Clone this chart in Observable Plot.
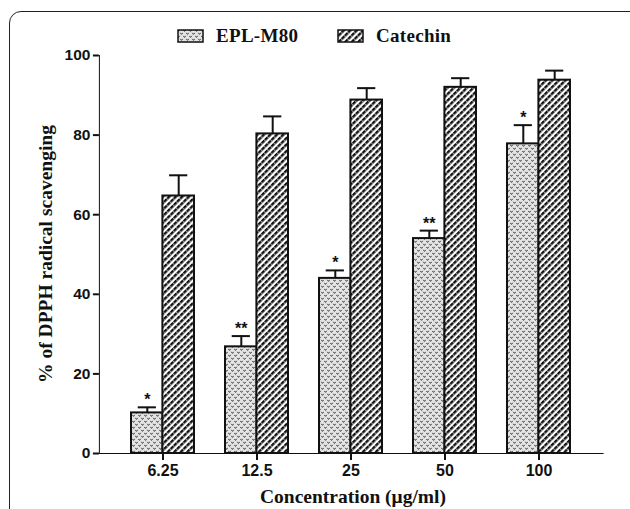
<!DOCTYPE html>
<html><head><meta charset="utf-8">
<script src="https://cdn.jsdelivr.net/npm/d3@7"></script>
<script src="https://cdn.jsdelivr.net/npm/@observablehq/plot@0.6"></script>
<style>
html,body{margin:0;padding:0;background:#fff;width:630px;height:509px;overflow:hidden}
#wrap{position:relative;width:630px;height:509px;overflow:hidden}
#frame{position:absolute;left:9px;top:11px;width:640px;height:530px;border:1.5px solid #222;border-radius:12px;box-sizing:border-box}
#chart{position:absolute;left:0;top:0}
.serif{font-family:"Liberation Serif","Times New Roman",serif;font-weight:bold;color:#111;white-space:nowrap}
.legtext{position:absolute;top:25px;font-size:19px;line-height:22px;letter-spacing:0.3px}
.sw{position:absolute;top:29px}
#ylab{position:absolute;left:46px;top:254px;font-size:19.5px;transform:translate(-50%,-50%) rotate(-90deg)}
#xlab{position:absolute;left:353px;top:497px;font-size:19.5px;transform:translate(-50%,-50%)}
#chart svg text{font-family:"Liberation Sans",Arial,sans-serif;font-weight:bold;fill:#111}
</style>
</head><body>
<svg width="0" height="0" style="position:absolute">
 <defs>
  <pattern id="patEPL" patternUnits="userSpaceOnUse" width="6" height="6">
   <rect width="6" height="6" fill="#e4e4e4"/>
   <path d="M0.3,0.8 L1.5,2.4 L2.7,0.8" fill="none" stroke="#3a3a3a" stroke-width="1"/>
   <path d="M3.3,3.8 L4.5,5.4 L5.7,3.8" fill="none" stroke="#3a3a3a" stroke-width="1"/>
  </pattern>
  <pattern id="patCat" patternUnits="userSpaceOnUse" width="4.6" height="4.6" patternTransform="rotate(45)">
   <rect width="4.6" height="4.6" fill="#fff"/>
   <rect width="2.4" height="4.6" fill="#111"/>
   <rect x="0" y="3.6" width="2.4" height="0.6" fill="#fff"/>
  </pattern>
 </defs>
</svg>
<div id="wrap">
 <div id="frame"></div>
 <div id="chart"></div>
 <div id="legend"></div>
 <div id="ylab" class="serif">% of DPPH radical scavenging</div>
 <div id="xlab" class="serif">Concentration (μg/ml)</div>
</div>
<script>
// ---- data ----
const concentrations = ["6.25", "12.5", "25", "50", "100"];
const seriesNames = ["EPL-M80", "Catechin"];
const eplMean = [10.2, 26.8, 44.0, 54.0, 77.8];
const eplErr  = [1.4, 2.7, 2.0, 2.0, 4.7];
const catMean = [64.7, 80.3, 88.8, 92.0, 93.8];
const catErr  = [5.2, 4.4, 3.0, 2.3, 2.4];
const significance = ["*", "**", "*", "**", "*"];
const yTicks = [0, 20, 40, 60, 80, 100];

const epl = concentrations.map((c, i) => ({conc: c, series: seriesNames[0], mean: eplMean[i], err: eplErr[i], sig: significance[i]}));
const cat = concentrations.map((c, i) => ({conc: c, series: seriesNames[1], mean: catMean[i], err: catErr[i]}));

const W = 630, H = 509;
const mLeft = 98.9, mRight = 27.4, mTop = 55, mBottom = 56;
const xRange = [mLeft, W - mRight];
const pad = 0.335;
let bw;
try {
  bw = Plot.scale({x: {type: "band", domain: concentrations, range: xRange, padding: pad}}).bandwidth;
} catch (e) {
  const step = (xRange[1] - xRange[0]) / (concentrations.length - pad + 2 * pad);
  bw = step * (1 - pad);
}
const half = bw / 2, q = bw / 4, capHalf = 9;

const chart = Plot.plot({
  width: W, height: H,
  marginTop: mTop, marginBottom: mBottom, marginLeft: mLeft, marginRight: mRight,
  style: {fontFamily: "Liberation Sans, Arial, sans-serif", fontWeight: "bold", fontSize: "15px", color: "#111", background: "transparent"},
  x: {type: "band", domain: concentrations, range: xRange, padding: pad, label: null, tickSize: 7, tickPadding: 4, line: true},
  y: {domain: [0, 100], ticks: yTicks, label: null, tickSize: 6, tickPadding: 3, line: true},
  marks: [
    Plot.barY(epl, {x: "conc", y: "mean", insetRight: half, fill: "url(#patEPL)", stroke: "#111", strokeWidth: 2}),
    Plot.barY(cat, {x: "conc", y: "mean", insetLeft: half, fill: "url(#patCat)", stroke: "#111", strokeWidth: 2}),
    Plot.ruleX(epl, {x: "conc", y1: "mean", y2: d => d.mean + d.err, dx: -q, stroke: "#111", strokeWidth: 2}),
    Plot.ruleX(cat, {x: "conc", y1: "mean", y2: d => d.mean + d.err, dx: q, stroke: "#111", strokeWidth: 2}),
    Plot.tickY(epl, {x: "conc", y: d => d.mean + d.err, insetLeft: q - capHalf, insetRight: bw - q - capHalf, stroke: "#111", strokeWidth: 2}),
    Plot.tickY(cat, {x: "conc", y: d => d.mean + d.err, insetLeft: bw - q - capHalf, insetRight: q - capHalf, stroke: "#111", strokeWidth: 2}),
    Plot.text(epl, {x: "conc", y: d => d.mean + d.err, text: "sig", dx: -q, dy: -2, lineAnchor: "bottom", fontSize: 16, fontWeight: "normal"})
  ]
});
document.getElementById("chart").appendChild(chart);
d3.select(chart).selectAll("[aria-label*='axis'] path, [aria-label*='axis'] line").attr("stroke-width", 2).attr("stroke", "#111");
d3.select(chart).selectAll("[aria-label*='x-axis'] text").style("font-size", "16px");
d3.select(chart).selectAll("[aria-label*='y-axis'] text").style("font-size", "15.5px");

// ---- legend ----
const legend = document.getElementById("legend");
const legItems = [
  {name: seriesNames[0], pat: "patEPL", sx: 177, tx: 216},
  {name: seriesNames[1], pat: "patCat", sx: 337, tx: 376}
];
legItems.forEach(it => {
  const s = d3.create("svg").attr("class", "sw").attr("width", 27).attr("height", 14).style("left", it.sx + "px");
  s.append("rect").attr("x", 1).attr("y", 1).attr("width", 25).attr("height", 12).attr("fill", `url(#${it.pat})`).attr("stroke", "#111").attr("stroke-width", 1.5);
  legend.appendChild(s.node());
  const t = document.createElement("div");
  t.className = "serif legtext";
  t.style.left = it.tx + "px";
  t.textContent = it.name;
  legend.appendChild(t);
});
</script>
</body></html>
